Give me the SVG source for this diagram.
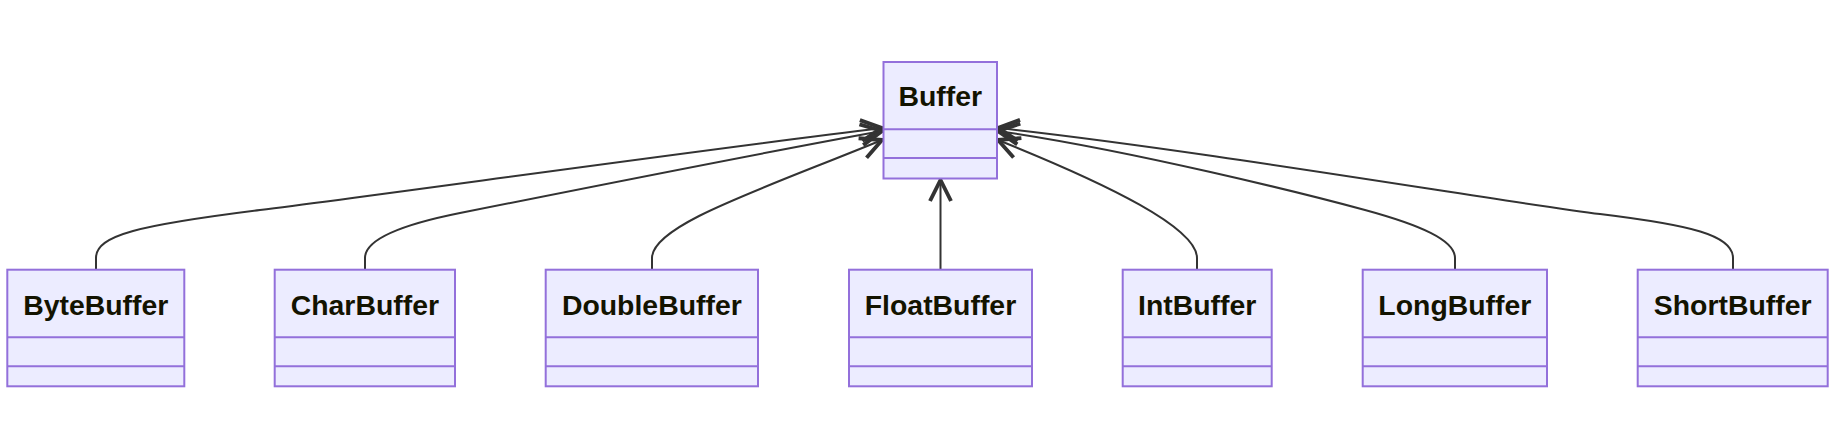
<svg xmlns="http://www.w3.org/2000/svg" width="1848" height="422" viewBox="0 0 1848 422">
<style>
.box{fill:#ECECFF;stroke:#9370DB;stroke-width:2}
.div{stroke:#9370DB;stroke-width:2}
.lbl{font-family:"Liberation Sans",Arial,sans-serif;font-weight:bold;font-size:28.4px;fill:#131300;text-anchor:middle}
.edge{fill:none;stroke:#333333;stroke-width:2}
</style>
<defs>
<marker id="arr" markerUnits="userSpaceOnUse" markerWidth="30" markerHeight="30" viewBox="-16 -10 20 20" refX="0" refY="0" orient="auto">
<path d="M-14,-7 L0,0 L-14,7" fill="none" stroke="#333333" stroke-width="2.6" stroke-linejoin="miter"/>
</marker>
</defs>
<rect width="1848" height="422" fill="#ffffff"/>
<g id="connectors">
<path class="edge" marker-end="url(#arr)" d="M96,270 V258 C96,235 140,225 260,210 S700,150 882,128"/>
<path class="edge" marker-end="url(#arr)" d="M365,270 V258 C365,240 400,225 460,213 S750,155 882,131"/>
<path class="edge" marker-end="url(#arr)" d="M652,270 V258 C652,225 760,190 882,140"/>
<path class="edge" marker-end="url(#arr)" d="M940.5,270 V180"/>
<path class="edge" marker-end="url(#arr)" d="M1197,270 V258 C1197,228 1110,185 998,140"/>
<path class="edge" marker-end="url(#arr)" d="M1455,270 V258 C1455,240 1420,225 1365,210 S1130,150 998,131"/>
<path class="edge" marker-end="url(#arr)" d="M1733,270 V258 C1733,235 1690,225 1600,214 S1200,150 998,128"/>
</g>
<g id="Buffer">
<rect class="box" x="883.5" y="62" width="113.5" height="116.5"/>
<line class="div" x1="883.5" y1="129.3" x2="997" y2="129.3"/>
<line class="div" x1="883.5" y1="158" x2="997" y2="158"/>
<text class="lbl" x="940.25" y="105.5">Buffer</text>
</g>
<g id="ByteBuffer">
<rect class="box" x="7.3" y="269.7" width="177" height="116.6"/>
<line class="div" x1="7.3" y1="337.3" x2="184.3" y2="337.3"/>
<line class="div" x1="7.3" y1="366.3" x2="184.3" y2="366.3"/>
<text class="lbl" x="95.8" y="314.5">ByteBuffer</text>
</g>
<g id="CharBuffer">
<rect class="box" x="274.7" y="269.7" width="180.3" height="116.6"/>
<line class="div" x1="274.7" y1="337.3" x2="455" y2="337.3"/>
<line class="div" x1="274.7" y1="366.3" x2="455" y2="366.3"/>
<text class="lbl" x="364.85" y="314.5">CharBuffer</text>
</g>
<g id="DoubleBuffer">
<rect class="box" x="545.7" y="269.7" width="212.3" height="116.6"/>
<line class="div" x1="545.7" y1="337.3" x2="758" y2="337.3"/>
<line class="div" x1="545.7" y1="366.3" x2="758" y2="366.3"/>
<text class="lbl" x="651.85" y="314.5">DoubleBuffer</text>
</g>
<g id="FloatBuffer">
<rect class="box" x="849" y="269.7" width="183" height="116.6"/>
<line class="div" x1="849" y1="337.3" x2="1032" y2="337.3"/>
<line class="div" x1="849" y1="366.3" x2="1032" y2="366.3"/>
<text class="lbl" x="940.5" y="314.5">FloatBuffer</text>
</g>
<g id="IntBuffer">
<rect class="box" x="1122.7" y="269.7" width="149" height="116.6"/>
<line class="div" x1="1122.7" y1="337.3" x2="1271.7" y2="337.3"/>
<line class="div" x1="1122.7" y1="366.3" x2="1271.7" y2="366.3"/>
<text class="lbl" x="1197.2" y="314.5">IntBuffer</text>
</g>
<g id="LongBuffer">
<rect class="box" x="1362.7" y="269.7" width="184.3" height="116.6"/>
<line class="div" x1="1362.7" y1="337.3" x2="1547" y2="337.3"/>
<line class="div" x1="1362.7" y1="366.3" x2="1547" y2="366.3"/>
<text class="lbl" x="1454.85" y="314.5">LongBuffer</text>
</g>
<g id="ShortBuffer">
<rect class="box" x="1637.7" y="269.7" width="190" height="116.6"/>
<line class="div" x1="1637.7" y1="337.3" x2="1827.7" y2="337.3"/>
<line class="div" x1="1637.7" y1="366.3" x2="1827.7" y2="366.3"/>
<text class="lbl" x="1732.7" y="314.5">ShortBuffer</text>
</g>
</svg>
